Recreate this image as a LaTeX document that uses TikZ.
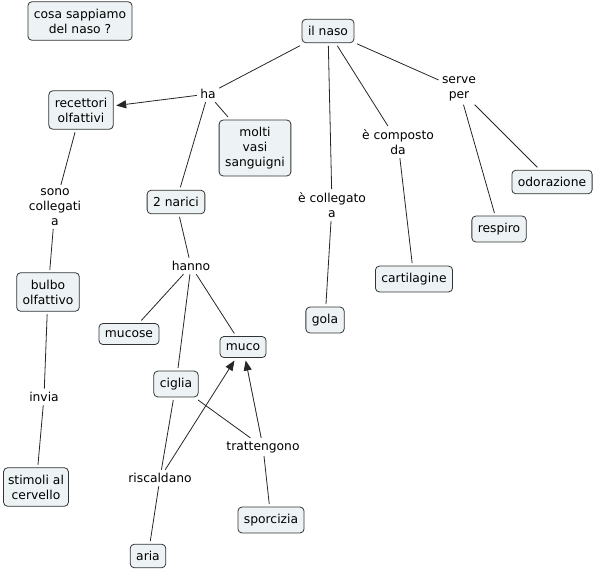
\documentclass[tikz,border=0pt]{standalone}
\usepackage{fontspec}
\setmainfont{DejaVu Sans}
\usetikzlibrary{arrows.meta}
\definecolor{boxfill}{HTML}{EDF3F5}
\definecolor{boxline}{HTML}{333333}
\begin{document}
\begin{tikzpicture}[x=1pt,y=-1pt,
 cbox/.style={draw=boxline, fill=boxfill, rounded corners=4pt, line width=0.8pt, inner xsep=6pt, inner ysep=7pt, align=center, font=\fontsize{12.3}{15}\selectfont, outer sep=3pt},
 lbl/.style={inner sep=1.5pt, outer sep=2pt, align=center, font=\fontsize{12.3}{15}\selectfont},
 link/.style={draw=black!85, line width=0.8pt},
 arr/.style={link, -{Triangle[length=10pt,width=8pt]}}]
\useasboundingbox (0,0) rectangle (596,571);
\node[cbox] (q) at (80,21) {cosa sappiamo\\del naso ?};
\node[cbox] (naso) at (328,31) {il naso};
\node[lbl] (ha) at (208,94) {ha};
\node[cbox] (rec) at (81,110) {recettori\\olfattivi};
\node[cbox] (vasi) at (255,148) {molti\\vasi\\sanguigni};
\node[cbox] (nar) at (176,202) {2 narici};
\node[lbl] (sono) at (55,207) {sono\\collegati\\a};
\node[lbl] (serve) at (459,89) {serve\\per};
\node[lbl] (comp) at (398,142) {è composto\\da};
\node[lbl] (coll) at (332,205) {è collegato\\a};
\node[cbox] (odor) at (552,182) {odorazione};
\node[cbox] (resp) at (499,229) {respiro};
\node[cbox] (cart) at (414,279) {cartilagine};
\node[cbox] (gola) at (325,320) {gola};
\node[lbl] (hanno) at (191,266) {hanno};
\node[cbox] (bulbo) at (48,292) {bulbo\\olfattivo};
\node[lbl] (invia) at (44,397) {invia};
\node[cbox, inner xsep=4.5pt] (stim) at (36,487) {stimoli al\\cervello};
\node[cbox] (mucose) at (129,334) {mucose};
\node[cbox] (muco) at (243,347) {muco};
\node[cbox] (ciglia) at (176,384) {ciglia};
\node[lbl] (tratt) at (263,447) {trattengono};
\node[lbl] (risc) at (160,478) {riscaldano};
\node[cbox] (sporc) at (271,520) {sporcizia};
\node[cbox] (aria) at (148,556) {aria};
\draw[link] (ha) -- (naso);
\draw[arr] (ha) -- (rec);
\draw[link] (ha) -- (vasi);
\draw[link] (ha) -- (nar);
\draw[link] (naso) -- (coll);
\draw[link] (coll) -- (gola);
\draw[link] (naso) -- (comp);
\draw[link] (comp) -- (cart);
\draw[link] (naso) -- (serve);
\draw[link] (serve) -- (odor);
\draw[link] (serve) -- (resp);
\draw[link] (rec) -- (sono);
\draw[link] (sono) -- (bulbo);
\draw[link] (bulbo) -- (invia);
\draw[link] (invia) -- (stim);
\draw[link] (nar) -- (hanno);
\draw[link] (hanno) -- (mucose);
\draw[link] (hanno) -- (ciglia);
\draw[link] (hanno) -- (muco);
\draw[link] (ciglia) -- (tratt);
\draw[arr] (tratt) -- (muco);
\draw[link] (sporc) -- (tratt);
\draw[link] (ciglia) -- (risc);
\draw[link] (risc) -- (aria);
\draw[arr] (risc) -- (muco);
\end{tikzpicture}
\end{document}
